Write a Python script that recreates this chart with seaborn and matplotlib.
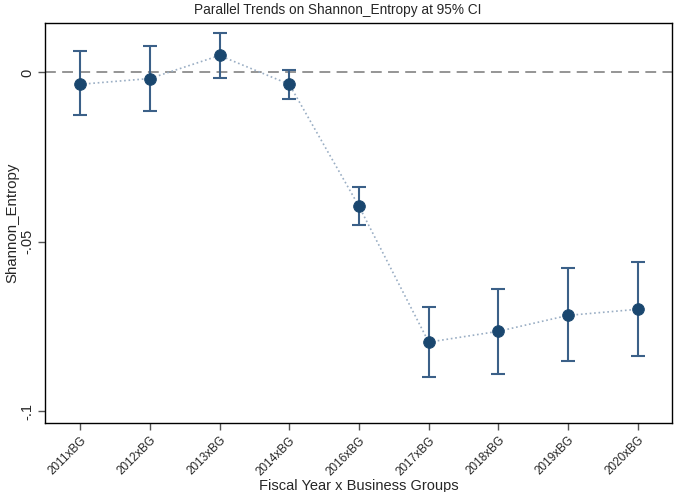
import numpy as np
import pandas as pd
import matplotlib
matplotlib.use("Agg")
import matplotlib.pyplot as plt
import seaborn as sns

# data
labels = ["2011xBG", "2012xBG", "2013xBG", "2014xBG", "2016xBG",
          "2017xBG", "2018xBG", "2019xBG", "2020xBG"]
coef = [-0.0035, -0.0018, 0.0050, -0.0035, -0.0395, -0.0796, -0.0764, -0.0717, -0.0699]
ci_hi = [0.0062, 0.0077, 0.0115, 0.0006, -0.0339, -0.0693, -0.0639, -0.0578, -0.0560]
ci_lo = [-0.0127, -0.0115, -0.0015, -0.0077, -0.0451, -0.0900, -0.0891, -0.0853, -0.0838]

df = pd.DataFrame({"pos": np.arange(len(labels)), "coef": coef,
                   "lo": ci_lo, "hi": ci_hi})

sns.set_style("white")
plt.rcParams["font.family"] = ["Liberation Sans", "DejaVu Sans"]

navy = "#1a476f"

fig, ax = plt.subplots(figsize=(6.75, 4.92), dpi=100)
fig.subplots_adjust(left=0.067, right=0.9956, top=0.954, bottom=0.14)

ax.axhline(0, color="#8c8c8c", lw=1.3, ls=(0, (6, 3.5)), zorder=1)

sns.lineplot(data=df, x="pos", y="coef", ax=ax, color="#9aaec4",
             lw=1.2, ls=":", zorder=2)
ax.errorbar(df["pos"], df["coef"],
            yerr=[df["coef"] - df["lo"], df["hi"] - df["coef"]],
            fmt="none", ecolor="#3b6088", elinewidth=1.5, capsize=5,
            capthick=1.5, zorder=3)
sns.scatterplot(data=df, x="pos", y="coef", ax=ax, color=navy, s=70,
                edgecolor=navy, zorder=4)

ax.set_xlim(-0.5, len(labels) - 1 + 0.49)
ax.set_ylim(-0.1035, 0.0147)
ax.set_xticks(df["pos"])
ax.set_xticklabels(labels, rotation=45, ha="right", rotation_mode="anchor",
                   fontsize=8.5)
ax.set_yticks([0, -0.05, -0.1])
ax.set_yticklabels(["0", "-.05", "-.1"], rotation=90, va="center", fontsize=10.5)
ax.tick_params(axis="both", direction="out", length=5, width=1, color="#555555",
               bottom=True, left=True, pad=3)

for s in ax.spines.values():
    s.set_color("black")
    s.set_linewidth(1)

ax.set_xlabel("Fiscal Year x Business Groups", fontsize=10.5, labelpad=1)
ax.set_ylabel("Shannon_Entropy", fontsize=10.8, labelpad=0.5)
fig.suptitle("Parallel Trends on Shannon_Entropy at 95% CI", fontsize=9.8,
             x=0.5, y=0.993, va="top")

fig.savefig("out.png", dpi=100)
